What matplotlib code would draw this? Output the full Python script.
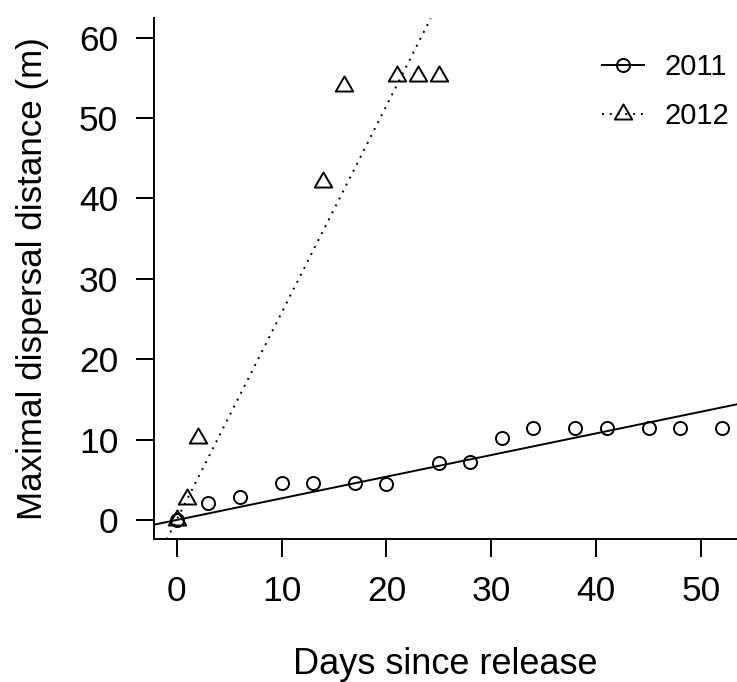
import numpy as np
import matplotlib
matplotlib.use("Agg")
import matplotlib.pyplot as plt
from matplotlib.path import Path
from matplotlib.lines import Line2D

# ---- data ----
days_2011 = [0, 3, 6, 10, 13, 17, 20, 25, 28, 31, 34, 38, 41, 45, 48, 52]
dist_2011 = [0, 2.15, 2.8, 4.55, 4.55, 4.55, 4.5, 7.05, 7.25, 10.15, 11.5, 11.5, 11.5, 11.5, 11.5, 11.5]
days_2012 = [0, 1, 2, 14, 16, 21, 23, 25]
dist_2012 = [0, 2.6, 10.2, 42.1, 54.0, 55.2, 55.2, 55.2]
series_labels = ["2011", "2012"]
x_ticks = [0, 10, 20, 30, 40, 50]
y_ticks = [0, 10, 20, 30, 40, 50, 60]
x_label = "Days since release"
y_label = "Maximal dispersal distance (m)"

plt.rcParams['font.family'] = ['Liberation Sans', 'DejaVu Sans']

W, H = 737, 682
fig = plt.figure(figsize=(W / 100, H / 100), dpi=100)
left, right, top, bottom = 154.3, 737.0, 18.3, 539.3
ax = fig.add_axes([left / W, 1 - bottom / H, (right - left) / W, (bottom - top) / H])

# R-like triangle (pch = 2), centred on its centroid
tri = Path([(0, 1.555), (1.347, -0.778), (-1.347, -0.778), (0, 1.555)],
           [Path.MOVETO, Path.LINETO, Path.LINETO, Path.CLOSEPOLY])

lw = 1.4
x1, y1 = np.array(days_2011, float), np.array(dist_2011, float)
x2, y2 = np.array(days_2012, float), np.array(dist_2012, float)

# regression lines through the origin
s1 = (x1 * y1).sum() / (x1 * x1).sum()
s2 = (x2 * y2).sum() / (x2 * x2).sum()
ax.axline((0, 0), slope=s1, color='black', lw=lw, ls='-')
ax.axline((0, 0), slope=s2, color='black', lw=lw, ls=(0, (1, 3)))

ax.plot(x1, y1, ls='none', marker='o', ms=9.4, mfc='none', mec='black', mew=lw, clip_on=False)
ax.plot(x2, y2, ls='none', marker=tri, ms=14.5, mfc='none', mec='black', mew=lw, clip_on=False)

ax.set_xlim(-2.13, 53.43)
ax.set_ylim(-2.4, 62.4)
ax.set_xticks(x_ticks)
ax.set_yticks(y_ticks)
ax.spines['top'].set_visible(False)
ax.spines['right'].set_visible(False)
for sp in ('left', 'bottom'):
    ax.spines[sp].set_linewidth(lw)
ax.tick_params(direction='out', length=13, width=lw, labelsize=25.5, pad=13, colors='black')

fig.text(445.6 / W, 8 / H, x_label, fontsize=26, ha='center', va='baseline')
fig.text(33 / W, 1 - 278.8 / H, y_label, fontsize=25.2, ha='center', va='center', rotation=90)

handles = [
    Line2D([], [], color='black', lw=lw, ls='-', marker='o', ms=9.4, mfc='none', mec='black', mew=lw),
    Line2D([], [], color='black', lw=lw, ls=(0, (1, 3)), marker=tri, ms=14.5, mfc='none', mec='black', mew=lw),
]
fig.legend(handles, series_labels, loc='upper left',
           bbox_to_anchor=(601.7 / W, 1 - 53 / H), bbox_transform=fig.transFigure,
           frameon=False, fontsize=21, handlelength=1.45, handletextpad=0.7,
           labelspacing=0.72, borderpad=0, borderaxespad=0, numpoints=1)

fig.savefig("out.png", dpi=100)
